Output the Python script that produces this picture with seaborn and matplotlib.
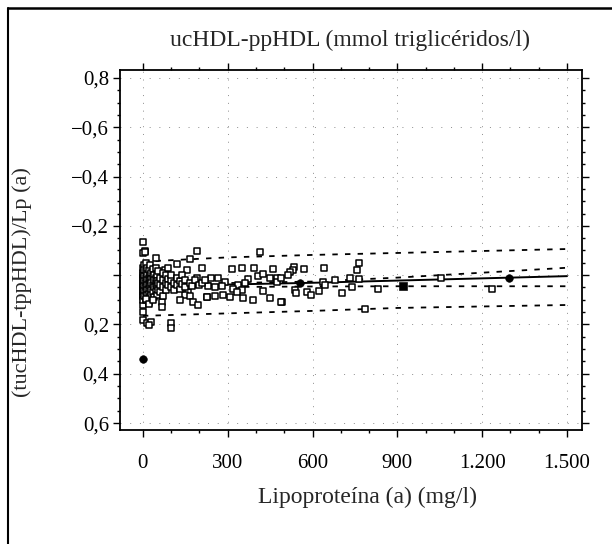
import numpy as np
import pandas as pd
import matplotlib
matplotlib.use("Agg")
import matplotlib.pyplot as plt
from matplotlib.ticker import MultipleLocator
from matplotlib.lines import Line2D
import seaborn as sns

sns.set_style("ticks")
plt.rcParams['font.family'] = ['Liberation Serif', 'DejaVu Serif']

# open squares: Lp(a) (mg/l) and (tucHDL-tppHDL)/Lp(a)
lpa = [7, 0, 0, 7, 48, 119, 190, 166, 78, 155, 208, 190, 160, 150, 165, 131, 177, 195, 225, 66, 66, 0, 0, 0,
       13, 30, 21, 101, 101,
       414, 349, 314, 393, 460, 241, 265, 290, 407, 424, 371, 449, 474, 230, 255, 280, 336, 361, 318, 350,
       226, 255, 283, 308, 332, 354, 389, 424, 449, 492, 474,
       534, 530, 520, 513, 569, 640, 764, 756, 490, 538, 541, 579, 593, 623, 637, 644, 679, 703, 732, 738,
       764, 490, 831, 785, 1056, 1235,
       0, 0, 0, 0, 0, 0, 0, 0, 0, 0, 0, 0, 0,
       5, 5, 5, 5, 5, 5, 5,
       10, 10, 10, 10, 10, 10, 10,
       15, 15, 15, 15, 15, 15,
       20, 20, 20, 20, 20, 20,
       25, 25, 25, 25, 25,
       30, 30, 30, 30, 30,
       35, 35, 35, 35,
       40, 40, 40, 40,
       45, 45, 45, 45,
       50, 50, 50, 50,
       55, 55, 55,
       60, 60, 60,
       70, 70, 70, 70,
       80, 80, 80,
       90, 90, 90,
       100, 100, 100,
       110, 110, 120, 120, 130, 130, 140, 140, 150, 150, 165, 175, 185, 200, 210, 220,
       12, 22, 35]
ratio = [-0.098, -0.136, -0.09, -0.094, -0.071, -0.045, -0.098, -0.065, -0.02, -0.02, -0.03, 0.012, 0.07, 0.08,
         0.085, 0.1, 0.11, 0.12, 0.09, 0.109, 0.129, 0.12, 0.15, 0.18,
         0.196, 0.19, 0.204, 0.196, 0.214,
         -0.095, -0.03, -0.024, -0.028, -0.024, 0.012, 0.012, 0.028, 0.004, -0.004, 0.016, 0.012, 0.012, 0.045,
         0.047, 0.045, 0.04, 0.033, 0.057, 0.06,
         0.09, 0.086, 0.082, 0.09, 0.07, 0.094, 0.1, 0.065, 0.094, 0.11, 0.029,
         -0.034, -0.02, -0.012, 0.0, -0.024, -0.03, -0.049, -0.02, 0.012, 0.061, 0.073, 0.069, 0.082, 0.064,
         0.029, 0.04, 0.02, 0.074, 0.012, 0.048,
         0.016, 0.11, 0.057, 0.139, 0.011, 0.057,
         -0.03, -0.01, 0.0, 0.01, 0.02, 0.03, 0.04, 0.05, 0.06, 0.07, 0.08, 0.09, 0.1,
         -0.04, -0.02, 0.005, 0.025, 0.045, 0.065, 0.085,
         -0.05, -0.015, 0.01, 0.03, 0.05, 0.07, 0.1,
         -0.03, 0.0, 0.02, 0.04, 0.06, 0.08,
         -0.02, 0.01, 0.035, 0.055, 0.075, 0.11,
         -0.04, 0.0, 0.02, 0.045, 0.09,
         -0.01, 0.015, 0.03, 0.06, 0.08,
         -0.025, 0.005, 0.04, 0.07,
         0.0, 0.02, 0.05, 0.09,
         -0.03, 0.01, 0.035, 0.065,
         0.0, 0.025, 0.045, 0.08,
         -0.015, 0.03, 0.06,
         0.01, 0.04, 0.07,
         -0.01, 0.02, 0.05, 0.085,
         0.0, 0.03, 0.06,
         0.015, 0.04, -0.03,
         0.02, 0.05, 0.0,
         0.03, 0.06, 0.01, 0.04, 0.025, 0.055, 0.035, 0.0, 0.02, 0.05, 0.03, 0.045, 0.02, 0.04, 0.03, 0.02,
         0.095, 0.115, 0.1]

# filled markers
dots_x = [0, 555, 1295]
dots_y = [0.339, 0.033, 0.011]
sq_x = [920]
sq_y = [0.045]

# regression line and bands
line_x = [0, 300, 600, 900, 1200, 1500]
fit_y = [0.045, 0.038, 0.031, 0.022, 0.013, 0.004]
ci_up = [0.035, 0.032, 0.026, 0.010, -0.010, -0.030]
ci_lo = [0.050, 0.048, 0.046, 0.045, 0.045, 0.045]
pi_up = [-0.055, -0.072, -0.082, -0.090, -0.098, -0.106]
pi_lo = [0.165, 0.155, 0.145, 0.133, 0.127, 0.121]

xticks = [0, 300, 600, 900, 1200, 1500]
xlabels = ['0', '300', '600', '900', '1.200', '1.500']
yticks = [-0.8, -0.6, -0.4, -0.2, 0.0, 0.2, 0.4, 0.6]
ylabels = ['0,8', '\u22120,6', '\u22120,4', '\u22120,2', '', '0,2', '0,4', '0,6']

pts = pd.DataFrame({'lpa': lpa, 'ratio': ratio})
bands = pd.DataFrame({'x': line_x, 'fit': fit_y, 'ci_up': ci_up, 'ci_lo': ci_lo,
                      'pi_up': pi_up, 'pi_lo': pi_lo})

fig = plt.figure(figsize=(6.12, 5.44), dpi=100)
ax = fig.add_axes([120/612, 1-430/544, 462/612, 360/544])

# grid (faint dotted)
for xv in xticks:
    ax.axvline(xv, color='0.55', lw=0.7, ls=(0, (1, 7)), zorder=0)
for yv in yticks:
    ax.axhline(yv, color='0.55', lw=0.7, ls=(0, (1, 9)), zorder=0)

for col in ['ci_up', 'ci_lo', 'pi_up', 'pi_lo']:
    sns.lineplot(data=bands, x='x', y=col, ax=ax, color='black', lw=1.3,
                 linestyle=(0, (3, 4)), zorder=2)
sns.lineplot(data=bands, x='x', y='fit', ax=ax, color='black', lw=1.4, zorder=3)

sns.scatterplot(data=pts, x='lpa', y='ratio', ax=ax, marker='s', s=20,
                facecolor='white', edgecolor='black', linewidth=1.1, zorder=4)
sns.scatterplot(x=dots_x, y=dots_y, ax=ax, marker='o', s=30, color='black',
                edgecolor='black', zorder=5)
sns.scatterplot(x=sq_x, y=sq_y, ax=ax, marker='s', s=30, color='black',
                edgecolor='black', zorder=5)

ax.set_xlim(-81, 1553)
ax.set_ylim(0.628, -0.832)
ax.set_xticks(xticks)
ax.set_xticklabels(xlabels)
ax.set_yticks(yticks)
ax.set_yticklabels(ylabels)
ax.xaxis.set_minor_locator(MultipleLocator(100))
ax.yaxis.set_minor_locator(MultipleLocator(0.05))
ax.tick_params(which='both', direction='out', top=True, right=True, labelsize=15,
               width=1.0, color='black', labelcolor='black')
ax.tick_params(which='major', length=5)
ax.tick_params(which='minor', length=2.5)
ax.tick_params(axis='x', which='major', pad=12)
ax.tick_params(axis='y', which='major', pad=3)
for sp in ax.spines.values():
    sp.set_visible(True)
    sp.set_linewidth(1.3)
    sp.set_color('black')

ax.set_xlabel('')
ax.set_ylabel('')
fig.text(368/612, 1-497/544, 'Lipoproteína (a) (mg/l)', fontsize=17, ha='center', va='center')
fig.text(22/612, 1-282/544, '(tucHDL-tppHDL)/Lp (a)', fontsize=16, ha='center', va='center',
         rotation=90)
fig.text(350/612, 1-40/544, 'ucHDL-ppHDL (mmol triglicéridos/l)', fontsize=17, ha='center', va='center')

# outer frame (left and top edges)
fig.add_artist(Line2D([8/612, 8/612], [0, 1-8/544], transform=fig.transFigure, color='black', lw=1.5))
fig.add_artist(Line2D([8/612, 1], [1-8/544, 1-8/544], transform=fig.transFigure, color='black', lw=1.8))

fig.savefig('out.png', dpi=100, facecolor='white')
